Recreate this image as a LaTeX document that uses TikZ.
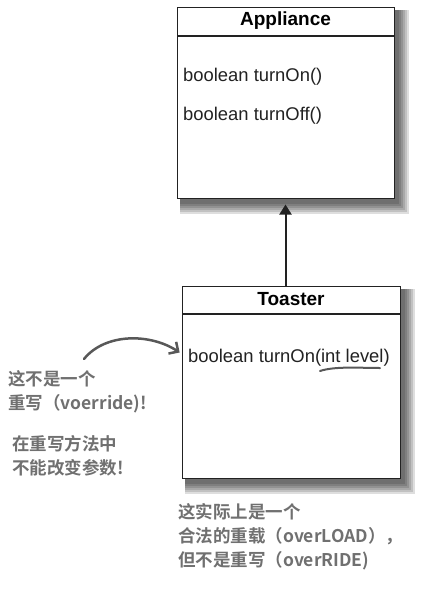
\documentclass[tikz,border=0pt]{standalone}
\usepackage{fontspec}
\setmainfont{Liberation Sans}
\newfontfamily\cjk{Noto Sans CJK SC}[BoldFont={Noto Sans CJK SC Bold}]
\usepackage{tikz}
\usetikzlibrary{arrows.meta,positioning,calc,backgrounds}
\definecolor{notegray}{RGB}{112,112,112}
\definecolor{inkgray}{RGB}{88,88,88}
\definecolor{boxline}{RGB}{34,34,34}

\begin{document}
\begin{tikzpicture}[
    x=1pt,y=-1pt,
    every node/.style={inner sep=0pt},
    title/.style={draw=boxline,line width=1pt,fill=white,minimum width=217pt,minimum height=28pt,
        font=\fontsize{19}{22}\selectfont\bfseries},
    body/.style={draw=boxline,line width=1pt,fill=white,minimum width=217pt},
    meth/.style={anchor=west,font=\fontsize{18.4}{21}\selectfont,text=boxline},
    note/.style={anchor=west,align=left,text=notegray,font=\cjk\bfseries\fontsize{17.5}{24}\selectfont}
]
\useasboundingbox (0,0) rectangle (431,590);

% Appliance
\node[title]                      (appT) at (285.5,21) {Appliance};
\node[body,minimum height=162pt,below=0pt of appT] (appB) {};
\node[meth] (appM1) at (183,77)  {boolean turnOn()};
\node[meth] (appM2) at (183,116) {boolean turnOff()};

% Toaster
\node[title,minimum height=27pt,minimum width=218pt] (toT) at (291,299.5) {Toaster};
\node[body,minimum height=164pt,minimum width=218pt,below=0pt of toT] (toB) {};
\node[meth] (toM) at (188,358) {boolean turnOn(int level)};

% shadows
\begin{scope}[on background layer]
  \foreach \a/\b in {appT/appB,toT/toB}
    \foreach \r in {2,4,...,12}
      \fill[black,opacity=0.13] ($(\a.north west)+(3,3)$) rectangle ($(\b.south east)+(2+\r,3+\r)$);
\end{scope}

% inheritance
\coordinate (tip) at ($(appB.south)+(0,6)$);
\draw[boxline,line width=2pt,-{Triangle[length=10pt,width=12pt]}] (tip |- toT.north) -- (tip);

% hand marks
\coordinate (ul1) at (320,371);
\coordinate (ul2) at (380,368);
\draw[inkgray,line width=2pt,line cap=round] (ul1) .. controls (335,366) and (360,368) .. (ul2);
\coordinate (ca) at (84,359);
\draw[inkgray,line width=2.5pt,line cap=round,shorten >=10pt,
      -{Straight Barb[length=7pt,width=14pt]}] (ca) .. controls (105,333) and (150,333) .. (toM.west);

% notes
\node[note] (note1) at (8,392) {这不是一个\\重写（voerride)!};
\node[note] (note2) at (12,456) {在重写方法中\\不能改变参数!};
\node[note] (note3) at (178,537) {这实际上是一个\\合法的重载（overLOAD），\\但不是重写（overRIDE)};
\end{tikzpicture}
\end{document}
